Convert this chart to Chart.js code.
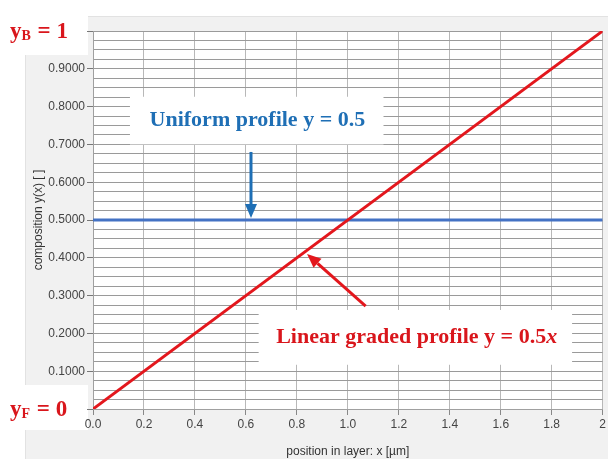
<!DOCTYPE html>
<html lang="en">
<head>
    <meta charset="UTF-8">
    <title>Composition profiles</title>
    <script src="https://cdn.jsdelivr.net/npm/chart.js"></script>
    <style>
        body {
            margin: 0;
            background: #ffffff;
        }
        .wrap {
            position: relative;
            width: 608px;
            height: 459px;
            overflow: hidden;
        }
        .panel {
            position: absolute;
            left: 25px;
            top: 16px;
            right: 0;
            bottom: 0;
            background: #f1f1f1;
            border-left: 1px solid #e2e2e2;
            border-top: 1px solid #e2e2e2;
        }
        canvas {
            position: absolute;
            left: 0;
            top: 0;
        }
    </style>
</head>
<body>
    <div class="wrap">
        <div class="panel"></div>
        <canvas id="profileChart" width="608" height="459"></canvas>
    </div>

    <script>
        // data
        const positions = [0, 2];          // x [µm]
        const linearProfile = [0, 1];      // y = 0.5x
        const uniformProfile = [0.5, 0.5]; // y = 0.5

        // annotations, in data coordinates
        const uniformLabel = { text: 'Uniform profile y = 0.5', x: 0.645, y: 0.763, x0: 0.145, x1: 1.14, y0: 0.70, y1: 0.826 };
        const linearLabel = { text: 'Linear graded profile y = 0.5', italic: 'x', x: 1.27, y: 0.19, x0: 0.65, x1: 1.88, y0: 0.117, y1: 0.262 };
        const uniformArrow = { from: [0.62, 0.68], to: [0.62, 0.505] };
        const linearArrow = { from: [1.07, 0.272], to: [0.84, 0.41] };

        const RED = '#e3171d';
        const BLUE = '#4472c4';
        const TEXT_BLUE = '#1f6fb5';
        const TEXT_RED = '#d9161c';

        function isTenth(v) {
            return Math.abs(v * 10 - Math.round(v * 10)) < 1e-6;
        }

        function drawArrow(ctx, x1, y1, x2, y2, color) {
            const ang = Math.atan2(y2 - y1, x2 - x1);
            const headLen = 14, headW = 6;
            const bx = x2 - headLen * Math.cos(ang);
            const by = y2 - headLen * Math.sin(ang);
            ctx.strokeStyle = color;
            ctx.fillStyle = color;
            ctx.lineWidth = 3;
            ctx.beginPath();
            ctx.moveTo(x1, y1);
            ctx.lineTo(bx, by);
            ctx.stroke();
            ctx.beginPath();
            ctx.moveTo(x2, y2);
            ctx.lineTo(bx + headW * Math.sin(ang), by - headW * Math.cos(ang));
            ctx.lineTo(bx - headW * Math.sin(ang), by + headW * Math.cos(ang));
            ctx.closePath();
            ctx.fill();
        }

        function drawBox(ctx, xs, ys, lab) {
            const l = xs.getPixelForValue(lab.x0), r = xs.getPixelForValue(lab.x1);
            const t = ys.getPixelForValue(lab.y1), b = ys.getPixelForValue(lab.y0);
            ctx.fillStyle = '#ffffff';
            ctx.fillRect(l, t, r - l, b - t);
        }

        function drawSubLabel(ctx, x, y, sub, rest) {
            ctx.fillStyle = TEXT_RED;
            ctx.textBaseline = 'middle';
            ctx.textAlign = 'left';
            ctx.font = 'bold 23px "Liberation Serif"';
            ctx.fillText('y', x, y);
            let w = ctx.measureText('y').width;
            ctx.font = 'bold 14px "Liberation Serif"';
            ctx.fillText(sub, x + w, y + 4);
            w += ctx.measureText(sub).width;
            ctx.font = 'bold 23px "Liberation Serif"';
            ctx.fillText(rest, x + w + 1, y);
        }

        const annotations = {
            id: 'annotations',
            beforeDraw(chart) {
                const { ctx, chartArea: a } = chart;
                const ys = chart.scales.y;
                ctx.save();
                ctx.fillStyle = '#ffffff';
                ctx.fillRect(a.left, a.top, a.width, a.height);
                // white patches behind the boundary values
                const yTop = ys.getPixelForValue(1);
                const yBot = ys.getPixelForValue(0);
                ctx.fillRect(0, 0, 88, yTop + 24);
                ctx.fillRect(8, yBot - 24, 80, 45);
                ctx.restore();
            },
            afterDraw(chart) {
                const { ctx } = chart;
                const xs = chart.scales.x, ys = chart.scales.y;
                ctx.save();

                // white label boxes
                drawBox(ctx, xs, ys, uniformLabel);
                drawBox(ctx, xs, ys, linearLabel);

                ctx.textBaseline = 'middle';
                ctx.textAlign = 'center';
                ctx.font = 'bold 22px "Liberation Serif"';
                ctx.fillStyle = TEXT_BLUE;
                ctx.fillText(uniformLabel.text, xs.getPixelForValue(uniformLabel.x), ys.getPixelForValue(uniformLabel.y));

                // linear label with italic x
                ctx.font = 'bold 22px "Liberation Serif"';
                const w1 = ctx.measureText(linearLabel.text).width;
                ctx.font = 'italic bold 22px "Liberation Serif"';
                const w2 = ctx.measureText(linearLabel.italic).width;
                const lx = xs.getPixelForValue(linearLabel.x) - (w1 + w2) / 2;
                const ly = ys.getPixelForValue(linearLabel.y);
                ctx.textAlign = 'left';
                ctx.fillStyle = TEXT_RED;
                ctx.font = 'bold 22px "Liberation Serif"';
                ctx.fillText(linearLabel.text, lx, ly);
                ctx.font = 'italic bold 22px "Liberation Serif"';
                ctx.fillText(linearLabel.italic, lx + w1, ly);

                // arrows
                drawArrow(ctx,
                    xs.getPixelForValue(uniformArrow.from[0]), ys.getPixelForValue(uniformArrow.from[1]),
                    xs.getPixelForValue(uniformArrow.to[0]), ys.getPixelForValue(uniformArrow.to[1]), '#1f6fb5');
                drawArrow(ctx,
                    xs.getPixelForValue(linearArrow.from[0]), ys.getPixelForValue(linearArrow.from[1]),
                    xs.getPixelForValue(linearArrow.to[0]), ys.getPixelForValue(linearArrow.to[1]), RED);

                // boundary values at left
                drawSubLabel(ctx, 10, ys.getPixelForValue(1) + 1, 'B', ' = 1');
                drawSubLabel(ctx, 10, ys.getPixelForValue(0) + 1, 'F', ' = 0');

                ctx.restore();
            }
        };

        const ctx = document.getElementById('profileChart').getContext('2d');

        new Chart(ctx, {
            type: 'line',
            data: {
                datasets: [{
                    label: 'Linear graded profile',
                    data: positions.map((x, i) => ({ x: x, y: linearProfile[i] })),
                    borderColor: RED,
                    borderWidth: 3,
                    pointRadius: 0,
                    fill: false
                }, {
                    label: 'Uniform profile',
                    data: positions.map((x, i) => ({ x: x, y: uniformProfile[i] })),
                    borderColor: BLUE,
                    borderWidth: 3,
                    pointRadius: 0,
                    fill: false
                }]
            },
            options: {
                responsive: false,
                animation: false,
                devicePixelRatio: 1,
                layout: { padding: { top: 31, right: 3, left: 0, bottom: 0 } },
                plugins: {
                    legend: { display: false },
                    tooltip: { enabled: false }
                },
                scales: {
                    x: {
                        type: 'linear',
                        min: 0,
                        max: 2,
                        ticks: {
                            stepSize: 0.2,
                            color: '#444',
                            font: { family: 'Liberation Sans', size: 12 },
                            padding: 2,
                            maxRotation: 0,
                            callback: v => (Math.abs(v - 2) < 1e-9 ? '2' : (Math.round(v * 10) / 10).toFixed(1))
                        },
                        grid: {
                            color: '#b8b8b8',
                            tickLength: 6,
                            tickColor: '#888'
                        },
                        border: { color: '#a0a0a0' },
                        title: {
                            display: true,
                            text: 'position in layer: x [µm]',
                            color: '#333',
                            font: { family: 'Liberation Sans', size: 12 },
                            padding: { top: 0, bottom: 0 }
                        },
                        afterFit: s => { s.height = 50; }
                    },
                    y: {
                        min: 0,
                        max: 1,
                        ticks: {
                            stepSize: 0.025,
                            maxTicksLimit: 100,
                            autoSkip: false,
                            color: '#444',
                            font: { family: 'Liberation Sans', size: 12 },
                            padding: 2,
                            callback: v => (isTenth(v) && v > 0.05 && v < 0.95 ? v.toFixed(4) : '')
                        },
                        grid: {
                            color: '#9a9a9a',
                            tickLength: 6,
                            tickColor: c => (c.tick && isTenth(c.tick.value) ? '#777' : 'rgba(0,0,0,0)')
                        },
                        border: { color: '#a0a0a0' },
                        title: {
                            display: true,
                            text: 'composition y(x) [ ]',
                            color: '#333',
                            font: { family: 'Liberation Sans', size: 12 },
                            padding: { top: 31, bottom: 0 }
                        },
                        afterFit: s => { s.width = 93; }
                    }
                }
            },
            plugins: [annotations]
        });
    </script>
</body>
</html>
